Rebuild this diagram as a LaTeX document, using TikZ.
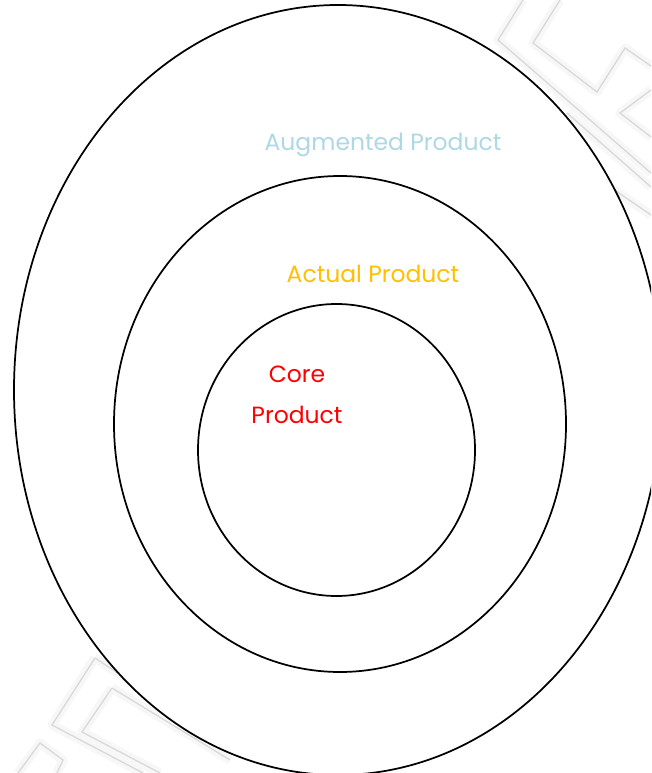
\documentclass[tikz,border=0pt]{standalone}
\usepackage{fontspec}
\setmainfont{Poppins}
\usetikzlibrary{shapes.geometric}

\definecolor{augblue}{RGB}{173,216,230}
\definecolor{actgold}{RGB}{255,192,0}
\definecolor{corered}{RGB}{255,0,0}

\begin{document}
\begin{tikzpicture}[
x=0.75pt, y=-0.75pt,
ring/.style={ellipse, draw, line width=1.3pt, fill=white, inner sep=0pt, outer sep=0pt},
key/.style={draw=gray!30, line width=1pt, line join=miter},
keyhaze/.style={draw=gray!6, line width=7pt, line join=round},
tag/.style={font=\fontsize{17.6}{31}\selectfont, align=center}
]
\useasboundingbox (0,0) rectangle (651,773);
\clip (0,0) rectangle (651,773);

% key pattern in the corners
\foreach \sty in {keyhaze,key}{
  \draw[\sty] (523,0) -- (498,40) -- (651,173);
  \draw[\sty] (560,0) -- (533,43) -- (597,92) -- (625,48) -- (651,66);
  \draw[\sty] (651,90) -- (620,113) -- (651,137);
  \draw[\sty] (567,113) -- (651,187);
  \draw[\sty] (600,180) -- (651,215);
  \draw[\sty] (95,658) -- (52,725) -- (143,773);
  \draw[\sty] (95,658) -- (220,740);
  \draw[\sty] (112,688) -- (82,732) -- (160,773);
  \draw[\sty] (112,688) -- (230,760);
  \draw[\sty] (18,773) -- (40,743) -- (63,760) -- (57,773);
}

% the three product levels
\node[ring, minimum width=486pt, minimum height=577.5pt] (augmented) at (338,390) {};
\node[ring, minimum width=339pt, minimum height=372pt] (actual) at (340,424) {};
\node[ring, minimum width=207.75pt, minimum height=219pt] (core) at (336.5,450) {};

\node[tag, text=augblue] (auglabel) at (383,145) {Augmented Product};
\node[tag, text=actgold] (actlabel) at (373,274) {Actual Product};
\node[tag, text=corered] (corelabel) at (297,395) {Core\\Product};
\end{tikzpicture}
\end{document}
